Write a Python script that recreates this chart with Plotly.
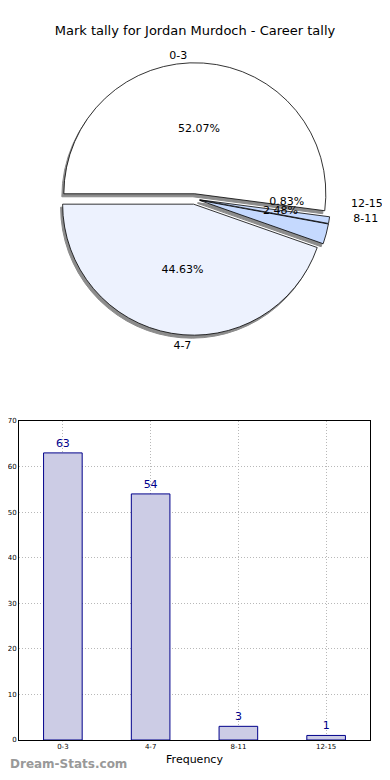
import plotly.graph_objects as go

categories = ["0-3", "4-7", "8-11", "12-15"]
counts = [63, 54, 3, 1]
pie_colors = ["#ffffff", "#edf2fe", "#c5d9fe", "#c5d9fe"]
yticks = [0, 10, 20, 30, 40, 50, 60, 70]
big_pct = ["%{percent:.2%}", "%{percent:.2%}", "", ""]
small_pct = ["", "", "%{percent:.2%}", "%{percent:.2%}"]

# page has an 8px body margin, so the figure is 16px smaller than the window (no scrollbars)
W, H = 374, 764
ml, mr, mt, mb = 11, 12, 40, 32
pw, ph = W - ml - mr, H - mt - mb

PULL = 0.04
pull = [PULL] * 4
CX, CY = ml + 0.5 * pw, 191  # pie centre in figure pixels
R = 131


def dom(r, ox=0.0, oy=0.0):
    """domain for a pie of radius r (px) centred at (CX+ox, CY+oy)."""
    h = r * (1 + PULL)
    x0, x1 = (CX + ox - h - ml) / pw, (CX + ox + h - ml) / pw
    yc = H - mb - (CY + oy)
    y0, y1 = (yc - h) / ph, (yc + h) / ph
    clip = lambda v: min(1.0, max(0.0, v))
    return dict(x=[clip(x0), clip(x1)], y=[clip(y0), clip(y1)])


common = dict(labels=categories, values=counts, sort=False, direction="counterclockwise",
              rotation=-90, pull=pull, hoverinfo="skip", showlegend=False)
clear = dict(colors=["rgba(0,0,0,0)"] * 4, line=dict(width=0))
lblfont = dict(family="DejaVu Sans", size=11, color="black")

fig = go.Figure()
# shadow
fig.add_trace(go.Pie(
    **common, marker=dict(colors=["#8c8c8c"] * 4, line=dict(color="#8c8c8c", width=1)),
    textinfo="none", domain=dom(R, -2, 3),
))
# main pie with percents for large slices
fig.add_trace(go.Pie(
    **common, marker=dict(colors=pie_colors, line=dict(color="#000000", width=0.8)),
    texttemplate=big_pct, textposition="inside", insidetextorientation="horizontal",
    textfont=lblfont, domain=dom(R),
))
# percents for the thin slices, placed at ~0.65 radius
fig.add_trace(go.Pie(
    **common, marker=clear,
    texttemplate=small_pct, textposition="inside", insidetextorientation="horizontal",
    textfont=lblfont, domain=dom(93, -1, -12),
))
# outside labels (placed like the reference)
fig.add_trace(go.Pie(
    **common, marker=clear, texttemplate=["%{label}", "", "", ""], textposition="outside",
    outsidetextfont=lblfont, domain=dom(125, -37, -7),
))
fig.add_trace(go.Pie(
    **common, marker=clear, texttemplate=["", "%{label}", "", ""], textposition="outside",
    outsidetextfont=lblfont, domain=dom(R, 23, 6),
))
fig.add_trace(go.Pie(
    **common, marker=clear, texttemplate=["", "", "", "%{label}"], textposition="outside",
    outsidetextfont=lblfont, domain=dom(115, 35, -14),
))
fig.add_trace(go.Pie(
    **common, marker=clear, texttemplate=["", "", "%{label}", ""], textposition="outside",
    outsidetextfont=lblfont, domain=dom(115, 40, -12),
))

fig.add_trace(go.Bar(
    x=categories, y=counts, width=0.44,
    marker=dict(color="#cccce5", line=dict(color="#00008b", width=1)),
    text=counts, textposition="outside", cliponaxis=False,
    textfont=dict(family="DejaVu Sans", size=11, color="#00008b"),
    hoverinfo="skip", showlegend=False,
))

fig.update_layout(
    width=W, height=H, margin=dict(l=ml, r=mr, t=mt, b=mb, autoexpand=False),
    paper_bgcolor="white", plot_bgcolor="white",
    title=dict(text="Mark tally for Jordan Murdoch - Career tally", x=0.5, xanchor="center",
               y=1 - 22 / H, yanchor="middle",
               font=dict(family="DejaVu Sans", size=13, color="black")),
    uniformtext=dict(minsize=11, mode="show"),
    xaxis=dict(domain=[0, 1], range=[-0.5, 3.5], showline=True, linecolor="black", mirror=True,
               showgrid=True, gridcolor="#b8b8b8", griddash="1px,2px", gridwidth=1,
               tickfont=dict(family="DejaVu Sans", size=7, color="black"),
               title=dict(text="Frequency", font=dict(family="DejaVu Sans", size=11, color="black"), standoff=4),
               ticks="", zeroline=False, automargin=False),
    yaxis=dict(domain=[0, (H - mb - 413) / ph], range=[0, 70], tickvals=yticks, showline=True,
               linecolor="black", mirror=True,
               showgrid=True, gridcolor="#b8b8b8", griddash="1px,2px", gridwidth=1,
               tickfont=dict(family="DejaVu Sans", size=7, color="black"),
               ticks="", zeroline=False, automargin=False),
    annotations=[dict(text="<b>Dream-Stats.com</b>", x=-ml / pw, xref="paper", xanchor="left",
                      y=(H - mb - 756) / ph, yref="paper", yanchor="middle", showarrow=False,
                      font=dict(family="DejaVu Sans", size=12, color="#999999"))],
)

fig.write_html("out.html")
